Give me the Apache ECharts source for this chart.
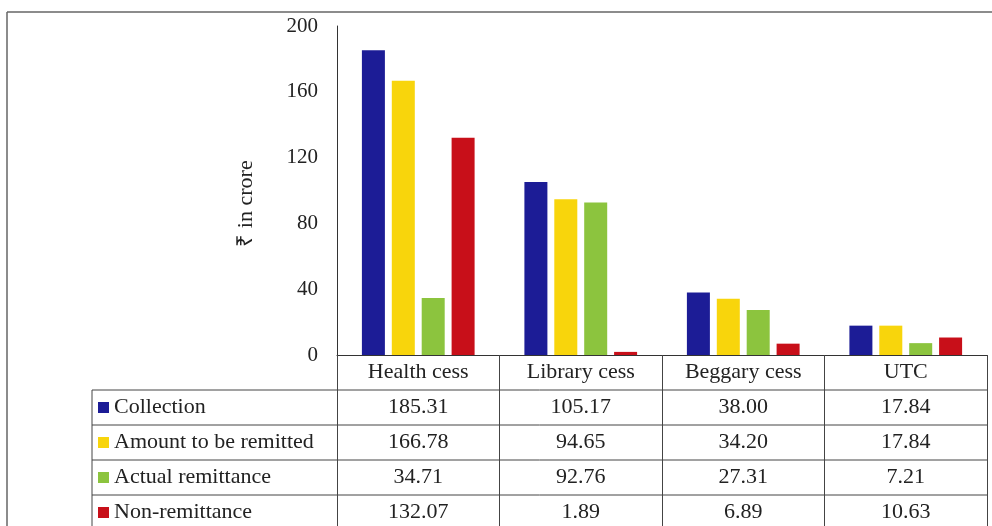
<!DOCTYPE html>
<html>
<head>
<meta charset="utf-8">
<script src="https://cdn.jsdelivr.net/npm/echarts@6/dist/echarts.min.js"></script>
<style>
html,body{margin:0;padding:0;background:#fff;}
#chart{width:992px;height:526px;}
</style>
</head>
<body>
<div id="chart"></div>
<script>
const categories = ['Health cess', 'Library cess', 'Beggary cess', 'UTC'];
const seriesNames = ['Collection', 'Amount to be remitted', 'Actual remittance', 'Non-remittance'];
const collection = [185.31, 105.17, 38.00, 17.84];
const amountToBeRemitted = [166.78, 94.65, 34.20, 17.84];
const actualRemittance = [34.71, 92.76, 27.31, 7.21];
const nonRemittance = [132.07, 1.89, 6.89, 10.63];
const yTickValues = [0, 40, 80, 120, 160, 200];
const seriesColors = ['#1c1c96', '#f8d50c', '#8cc43e', '#c80f19'];

const seriesData = [collection, amountToBeRemitted, actualRemittance, nonRemittance];
const FONT = "'Liberation Serif', 'Times New Roman', serif";
const TXT = '#222';

const gridLeft = 337, gridRight = 5, gridTop = 26, gridBottom = 171;
const W = 992, H = 526;
const axisY = H - gridBottom;   // 355
const rowH = 35;
const legendLine = 22;

const xAxes = [{
  type: 'category', data: categories, gridIndex: 0, position: 'bottom',
  axisLine: { show: true, lineStyle: { color: '#333', width: 1 } },
  axisTick: { show: true, alignWithLabel: false, length: H - axisY, lineStyle: { color: '#444', width: 1 } },
  axisLabel: { fontFamily: FONT, fontSize: 22, color: TXT, margin: 6 }
}];
seriesData.forEach((vals, k) => {
  xAxes.push({
    type: 'category', data: categories, gridIndex: 0, position: 'bottom',
    offset: rowH * (k + 1),
    axisLine: { show: false }, axisTick: { show: false },
    axisLabel: {
      fontFamily: FONT, fontSize: 22, color: TXT, margin: 6,
      formatter: (v, i) => vals[i].toFixed(2)
    }
  });
});

const tableLines = [];
for (let r = 1; r <= 4; r++) {
  const y = axisY + rowH * r;
  tableLines.push({ type: 'line', shape: { x1: 92, y1: y, x2: W - gridRight, y2: y }, style: { stroke: '#444', lineWidth: 1 }, silent: true });
}
tableLines.push({ type: 'line', shape: { x1: 92, y1: axisY + rowH, x2: 92, y2: H }, style: { stroke: '#444', lineWidth: 1 }, silent: true });
// outer frame
tableLines.push({ type: 'line', shape: { x1: 7, y1: 12, x2: W, y2: 12 }, style: { stroke: '#666', lineWidth: 1.5 }, silent: true });
tableLines.push({ type: 'line', shape: { x1: 7, y1: 12, x2: 7, y2: H }, style: { stroke: '#666', lineWidth: 1.5 }, silent: true });

const chart = echarts.init(document.getElementById('chart'), null, { renderer: 'canvas' });
chart.setOption({
  animation: false,
  backgroundColor: '#fff',
  textStyle: { fontFamily: FONT },
  grid: { left: gridLeft, right: gridRight, top: gridTop, bottom: gridBottom, containLabel: false },
  legend: {
    orient: 'vertical', left: 98, top: axisY + rowH + (rowH - legendLine) / 2,
    itemGap: rowH - legendLine, padding: 0,
    itemWidth: 11, itemHeight: 11, icon: 'rect',
    textStyle: { fontFamily: FONT, fontSize: 22, color: TXT, lineHeight: legendLine },
    data: seriesNames
  },
  xAxis: xAxes,
  yAxis: {
    type: 'value', min: yTickValues[0], max: yTickValues[yTickValues.length - 1], interval: 40,
    name: '₹ in crore', nameLocation: 'middle', nameGap: 80,
    nameTextStyle: { fontFamily: FONT, fontSize: 22, color: TXT, padding: [0, 0, 0, -26] },
    axisLine: { show: true, lineStyle: { color: '#333', width: 1 } },
    axisTick: { show: false },
    splitLine: { show: false },
    axisLabel: { fontFamily: FONT, fontSize: 21, color: TXT, margin: 19 }
  },
  series: seriesNames.map((name, k) => ({
    name: name, type: 'bar', xAxisIndex: 0, data: seriesData[k],
    barWidth: 23, barGap: '30%',
    itemStyle: { color: seriesColors[k] }
  })),
  graphic: tableLines
});
</script>
</body>
</html>
